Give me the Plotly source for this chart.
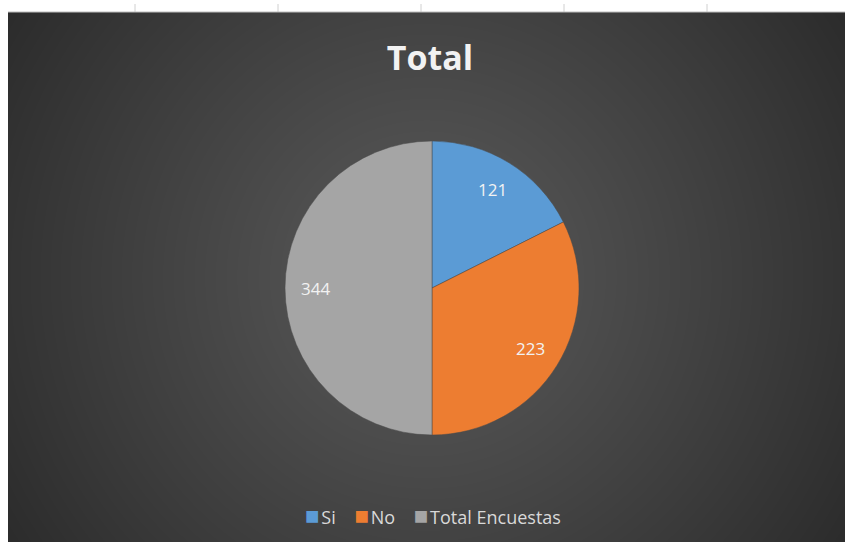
import base64
import struct
import zlib

import numpy as np
import plotly.graph_objects as go

# Survey totals
labels = ["Si", "No", "Total Encuestas"]
values = [121, 223, 344]
colors = ["#5B9BD5", "#ED7D31", "#A5A5A5"]

W, H = 845, 542
PANEL_X0, PANEL_Y0 = 8, 12          # chart area offset inside the sheet (px)
PIE_CX, PIE_CY, PIE_R = 432, 288, 147  # pie placement (px)
LABEL_RADIUS = 0.79                 # data labels sit near 80% of the radius


def png_data_uri(rgb):
    """Encode an HxWx3 uint8 array as a PNG data URI."""
    h, w, _ = rgb.shape
    raw = b"".join(b"\x00" + rgb[r].tobytes() for r in range(h))

    def chunk(tag, data):
        body = tag + data
        return struct.pack(">I", len(data)) + body + struct.pack(">I", zlib.crc32(body) & 0xFFFFFFFF)

    png = (b"\x89PNG\r\n\x1a\n"
           + chunk(b"IHDR", struct.pack(">IIBBBBB", w, h, 8, 2, 0, 0, 0))
           + chunk(b"IDAT", zlib.compress(raw, 9))
           + chunk(b"IEND", b""))
    return "data:image/png;base64," + base64.b64encode(png).decode()


# Radial dark-grey gradient for the chart area
pw, ph = W - PANEL_X0, H - PANEL_Y0
yy, xx = np.mgrid[0:ph, 0:pw].astype(float)
cx, cy = pw * 0.50, ph * 0.50
d = np.sqrt((xx - cx) ** 2 + (yy - cy) ** 2)
d /= np.sqrt(cx ** 2 + cy ** 2)
inner, outer = 0x5A, 0x2C
g = (inner + (outer - inner) * np.clip(d, 0, 1) ** 1.1).astype(np.uint8)
bg = np.dstack([g, g, g])

fig = go.Figure(
    go.Pie(
        labels=labels,
        values=values,
        sort=False,
        direction="clockwise",
        rotation=0,
        marker=dict(colors=colors, line=dict(color="#4a4a4a", width=0.5)),
        textinfo="none",
        domain=dict(x=[(PIE_CX - PIE_R) / W, (PIE_CX + PIE_R) / W],
                    y=[(H - PIE_CY - PIE_R) / H, (H - PIE_CY + PIE_R) / H]),
        hoverinfo="label+value",
        showlegend=False,
    )
)

# Value labels placed along each slice's bisector
annotations = []
total = sum(values)
cum = 0
for v in values:
    mid = (cum + v / 2) / total * 2 * np.pi  # clockwise from 12 o'clock
    cum += v
    px = PIE_CX + LABEL_RADIUS * PIE_R * np.sin(mid)
    py = PIE_CY - LABEL_RADIUS * PIE_R * np.cos(mid)
    annotations.append(dict(text=str(v), x=px / W, y=1 - py / H, xref="paper", yref="paper",
                            showarrow=False, xanchor="center", yanchor="middle",
                            font=dict(family="Open Sans", size=17, color="#F2F2F2")))

# Legend line: coloured square + category name for each series entry
legend_text = "&nbsp;&nbsp;&nbsp;&nbsp;".join(
    f"<span style='color:{c};font-size:24px'>■</span>&#8202;{lab}" for lab, c in zip(labels, colors))
annotations.append(dict(text=legend_text, x=433 / W, y=1 - 514 / H, xref="paper", yref="paper",
                        showarrow=False, xanchor="center", yanchor="middle",
                        font=dict(family="Open Sans", size=18, color="#D9D9D9")))

# Spreadsheet gridline ticks peeking above the chart area
shapes = []
for tx in [135, 278, 421, 564, 707]:
    shapes.append(dict(type="line", xref="paper", yref="paper",
                       x0=tx / W, x1=tx / W, y0=1 - 4 / H, y1=1 - PANEL_Y0 / H,
                       line=dict(color="#d0d0d0", width=1)))
shapes.append(dict(type="line", xref="paper", yref="paper",
                   x0=PANEL_X0 / W, x1=1, y0=1 - PANEL_Y0 / H, y1=1 - PANEL_Y0 / H,
                   line=dict(color="#bdbdbd", width=1)))

fig.update_layout(
    width=W,
    height=H,
    margin=dict(l=0, r=0, t=0, b=0),
    paper_bgcolor="white",
    plot_bgcolor="white",
    images=[dict(source=png_data_uri(bg), xref="paper", yref="paper",
                 x=PANEL_X0 / W, y=1 - PANEL_Y0 / H, sizex=pw / W, sizey=ph / H,
                 xanchor="left", yanchor="top", sizing="stretch", layer="below")],
    shapes=shapes,
    annotations=annotations,
    title=dict(text="<b>Total</b>", x=430 / W, xanchor="center",
               y=1 - 58 / H, yanchor="middle", yref="container",
               font=dict(family="Open Sans", size=34, color="#F2F2F2")),
    showlegend=False,
)

fig.write_html("out.html")
